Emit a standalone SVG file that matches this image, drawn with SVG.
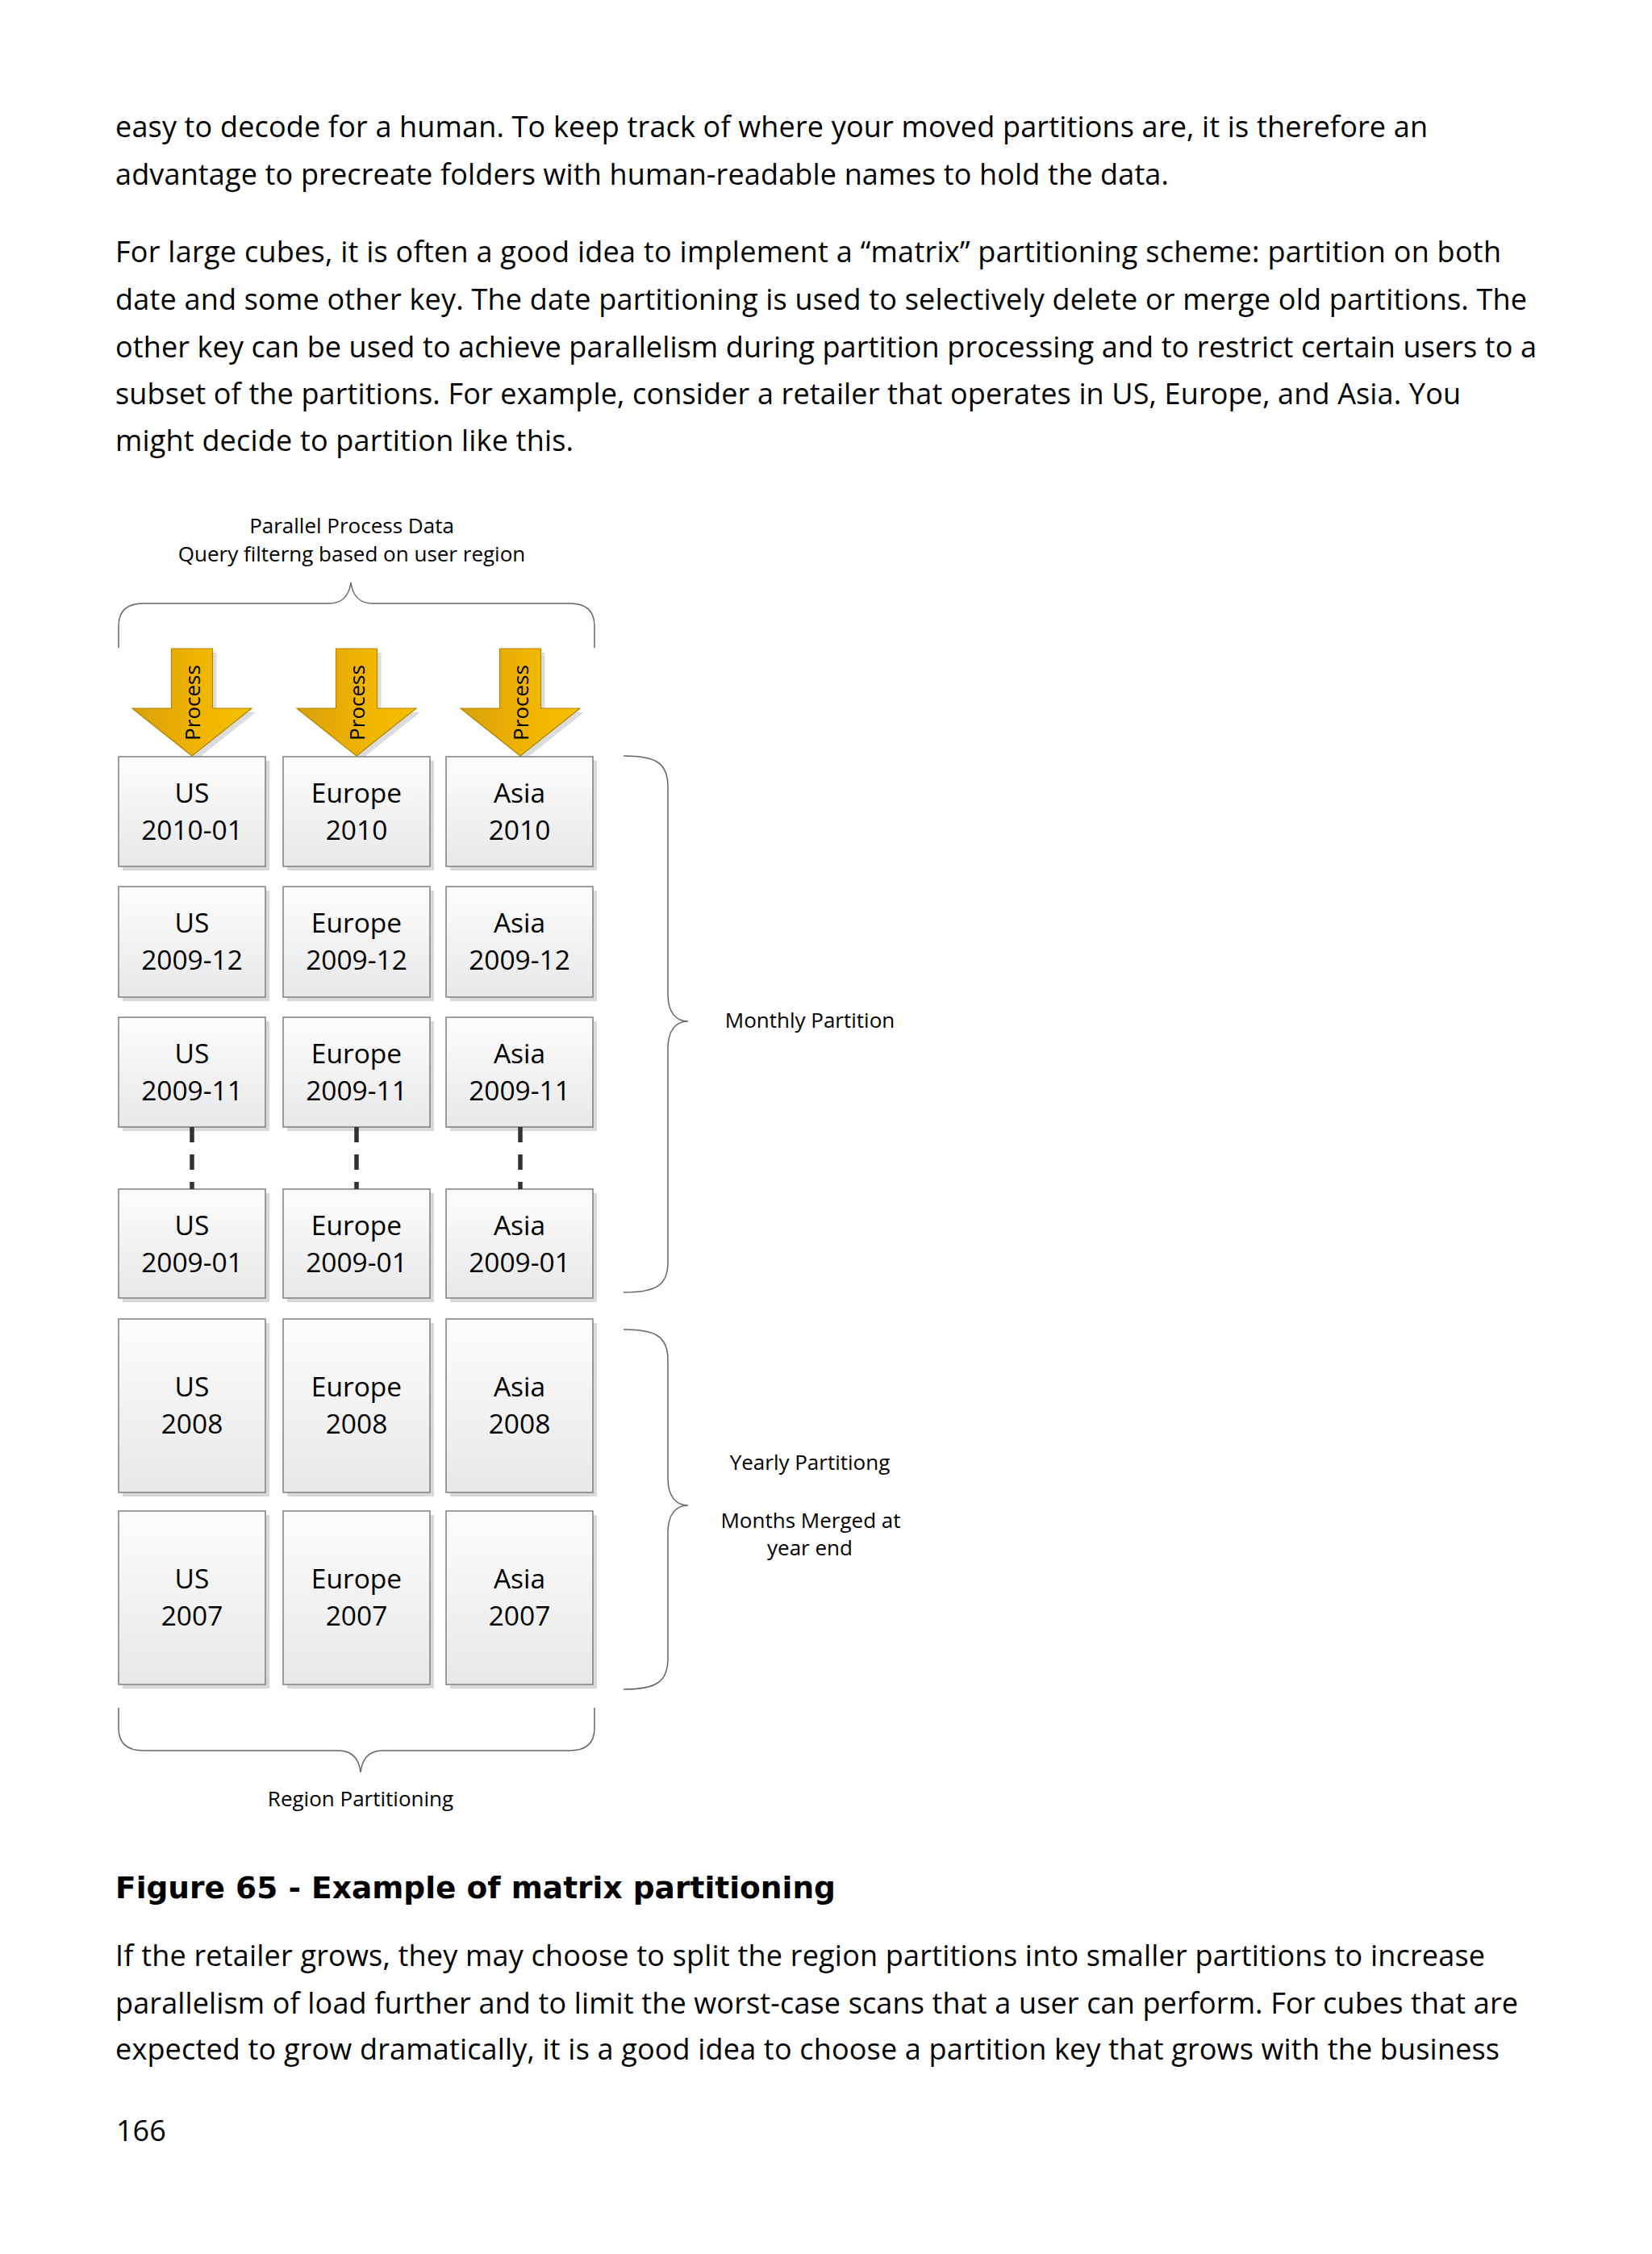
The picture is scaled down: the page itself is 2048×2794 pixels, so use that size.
<svg xmlns="http://www.w3.org/2000/svg" width="2048" height="2794" viewBox="0 0 2048 2794">
<style>
.shadow{fill:#d9d9d9}
.main{fill:url(#boxGrad);stroke:#7f7f7f;stroke-width:1.5}
.bt{font-family:"Open Sans","Liberation Sans",sans-serif;font-size:33.5px;text-anchor:middle;fill:#000}
.lbl{font-family:"Open Sans","Liberation Sans",sans-serif;font-size:26px;text-anchor:middle;fill:#000}
.proc{font-family:"Open Sans","Liberation Sans",sans-serif;font-size:26px;text-anchor:middle;fill:#000}
.body{font-family:"Open Sans","Liberation Sans",sans-serif;font-size:36px;fill:#000}
.cap{font-family:"DejaVu Sans","Liberation Sans",sans-serif;font-weight:bold;font-size:38px;fill:#000}
.brace{fill:none;stroke:#666;stroke-width:1.5}
.dash{fill:none;stroke:#333;stroke-width:5.5;stroke-dasharray:19 15}
.arr{fill:url(#arrowGrad);stroke:#b38600;stroke-width:1.2}
.arrsh{fill:#dcdcdc}
</style>
<defs>
<linearGradient id="boxGrad" x1="0" y1="0" x2="0" y2="1">
<stop offset="0" stop-color="#fdfdfd"/>
<stop offset="1" stop-color="#e8e8ea"/>
</linearGradient>
<linearGradient id="arrowGrad" x1="0" y1="0" x2="1" y2="0">
<stop offset="0" stop-color="#d6a00c"/>
<stop offset="0.55" stop-color="#f0b400"/>
<stop offset="1" stop-color="#f7c000"/>
</linearGradient>
</defs>
<rect x="0" y="0" width="2048" height="2794" fill="#ffffff"/>

<g id="body-text-top">
<text class="body" x="143" y="170" textLength="1627" lengthAdjust="spacing">easy to decode for a human. To keep track of where your moved partitions are, it is therefore an</text>
<text class="body" x="143" y="229" textLength="1306" lengthAdjust="spacing">advantage to precreate folders with human-readable names to hold the data.</text>
<text class="body" x="143" y="325" textLength="1718" lengthAdjust="spacing">For large cubes, it is often a good idea to implement a “matrix” partitioning scheme: partition on both</text>
<text class="body" x="143" y="384" textLength="1750" lengthAdjust="spacing">date and some other key. The date partitioning is used to selectively delete or merge old partitions. The</text>
<text class="body" x="143" y="443" textLength="1762" lengthAdjust="spacing">other key can be used to achieve parallelism during partition processing and to restrict certain users to a</text>
<text class="body" x="143" y="501" textLength="1668" lengthAdjust="spacing">subset of the partitions. For example, consider a retailer that operates in US, Europe, and Asia. You</text>
<text class="body" x="143" y="559" textLength="568" lengthAdjust="spacing">might decide to partition like this.</text>
</g>

<g id="label-top">
<text class="lbl" x="436" y="661">Parallel Process Data</text>
<text class="lbl" x="436" y="696">Query filterng based on user region</text>
</g>
<g id="brace-top">
<path class="brace" d="M147,803 V776 C147,757 157,748 178,748 H408 C424,748 433,738 435,722 C437,738 446,748 462,748 H706 C727,748 737,757 737,776 V803"/>
</g>

<g id="arrow-us">
<polygon class="arrsh" transform="translate(243,809)" points="-25.5,0 25.5,0 25.5,74 74,74 0,133 -74,74 -25.5,74"/>
<polygon class="arr" transform="translate(238,804)" points="-25.5,0 25.5,0 25.5,74 74,74 0,133 -74,74 -25.5,74"/>
<text class="proc" transform="translate(248,871) rotate(-90)" x="0" y="0">Process</text>
</g>
<g id="arrow-europe">
<polygon class="arrsh" transform="translate(447,809)" points="-25.5,0 25.5,0 25.5,74 74,74 0,133 -74,74 -25.5,74"/>
<polygon class="arr" transform="translate(442,804)" points="-25.5,0 25.5,0 25.5,74 74,74 0,133 -74,74 -25.5,74"/>
<text class="proc" transform="translate(452,871) rotate(-90)" x="0" y="0">Process</text>
</g>
<g id="arrow-asia">
<polygon class="arrsh" transform="translate(650,809)" points="-25.5,0 25.5,0 25.5,74 74,74 0,133 -74,74 -25.5,74"/>
<polygon class="arr" transform="translate(645,804)" points="-25.5,0 25.5,0 25.5,74 74,74 0,133 -74,74 -25.5,74"/>
<text class="proc" transform="translate(655,871) rotate(-90)" x="0" y="0">Process</text>
</g>

<g id="us-2010-01"><rect class="shadow" x="152" y="943" width="182" height="136"/><rect class="main" x="147" y="938" width="182" height="136"/><text class="bt" x="238" y="995">US</text><text class="bt" x="238" y="1041">2010-01</text></g>
<g id="europe-2010"><rect class="shadow" x="356" y="943" width="182" height="136"/><rect class="main" x="351" y="938" width="182" height="136"/><text class="bt" x="442" y="995">Europe</text><text class="bt" x="442" y="1041">2010</text></g>
<g id="asia-2010"><rect class="shadow" x="558" y="943" width="182" height="136"/><rect class="main" x="553" y="938" width="182" height="136"/><text class="bt" x="644" y="995">Asia</text><text class="bt" x="644" y="1041">2010</text></g>

<g id="us-2009-12"><rect class="shadow" x="152" y="1104" width="182" height="137"/><rect class="main" x="147" y="1099" width="182" height="137"/><text class="bt" x="238" y="1156">US</text><text class="bt" x="238" y="1202">2009-12</text></g>
<g id="europe-2009-12"><rect class="shadow" x="356" y="1104" width="182" height="137"/><rect class="main" x="351" y="1099" width="182" height="137"/><text class="bt" x="442" y="1156">Europe</text><text class="bt" x="442" y="1202">2009-12</text></g>
<g id="asia-2009-12"><rect class="shadow" x="558" y="1104" width="182" height="137"/><rect class="main" x="553" y="1099" width="182" height="137"/><text class="bt" x="644" y="1156">Asia</text><text class="bt" x="644" y="1202">2009-12</text></g>

<g id="us-2009-11"><rect class="shadow" x="152" y="1266" width="182" height="136"/><rect class="main" x="147" y="1261" width="182" height="136"/><text class="bt" x="238" y="1318">US</text><text class="bt" x="238" y="1364">2009-11</text></g>
<g id="europe-2009-11"><rect class="shadow" x="356" y="1266" width="182" height="136"/><rect class="main" x="351" y="1261" width="182" height="136"/><text class="bt" x="442" y="1318">Europe</text><text class="bt" x="442" y="1364">2009-11</text></g>
<g id="asia-2009-11"><rect class="shadow" x="558" y="1266" width="182" height="136"/><rect class="main" x="553" y="1261" width="182" height="136"/><text class="bt" x="644" y="1318">Asia</text><text class="bt" x="644" y="1364">2009-11</text></g>

<g id="us-2009-01"><rect class="shadow" x="152" y="1479" width="182" height="135"/><rect class="main" x="147" y="1474" width="182" height="135"/><text class="bt" x="238" y="1531">US</text><text class="bt" x="238" y="1577">2009-01</text></g>
<g id="europe-2009-01"><rect class="shadow" x="356" y="1479" width="182" height="135"/><rect class="main" x="351" y="1474" width="182" height="135"/><text class="bt" x="442" y="1531">Europe</text><text class="bt" x="442" y="1577">2009-01</text></g>
<g id="asia-2009-01"><rect class="shadow" x="558" y="1479" width="182" height="135"/><rect class="main" x="553" y="1474" width="182" height="135"/><text class="bt" x="644" y="1531">Asia</text><text class="bt" x="644" y="1577">2009-01</text></g>

<g id="us-2008"><rect class="shadow" x="152" y="1640" width="182" height="215"/><rect class="main" x="147" y="1635" width="182" height="215"/><text class="bt" x="238" y="1731">US</text><text class="bt" x="238" y="1777">2008</text></g>
<g id="europe-2008"><rect class="shadow" x="356" y="1640" width="182" height="215"/><rect class="main" x="351" y="1635" width="182" height="215"/><text class="bt" x="442" y="1731">Europe</text><text class="bt" x="442" y="1777">2008</text></g>
<g id="asia-2008"><rect class="shadow" x="558" y="1640" width="182" height="215"/><rect class="main" x="553" y="1635" width="182" height="215"/><text class="bt" x="644" y="1731">Asia</text><text class="bt" x="644" y="1777">2008</text></g>

<g id="us-2007"><rect class="shadow" x="152" y="1878" width="182" height="215"/><rect class="main" x="147" y="1873" width="182" height="215"/><text class="bt" x="238" y="1969">US</text><text class="bt" x="238" y="2015">2007</text></g>
<g id="europe-2007"><rect class="shadow" x="356" y="1878" width="182" height="215"/><rect class="main" x="351" y="1873" width="182" height="215"/><text class="bt" x="442" y="1969">Europe</text><text class="bt" x="442" y="2015">2007</text></g>
<g id="asia-2007"><rect class="shadow" x="558" y="1878" width="182" height="215"/><rect class="main" x="553" y="1873" width="182" height="215"/><text class="bt" x="644" y="1969">Asia</text><text class="bt" x="644" y="2015">2007</text></g>

<g id="connectors">
<line class="dash" x1="238" y1="1397" x2="238" y2="1474"/>
<line class="dash" x1="442" y1="1397" x2="442" y2="1474"/>
<line class="dash" x1="645" y1="1397" x2="645" y2="1474"/>
</g>

<g id="brace-monthly">
<path class="brace" d="M773,937 C812,937 828,945 828,975 V1232 C828,1255 838,1266 853,1266 C838,1266 828,1277 828,1300 V1565 C828,1594 812,1602 773,1602"/>
<text class="lbl" x="1004" y="1274">Monthly Partition</text>
</g>
<g id="brace-yearly">
<path class="brace" d="M773,1648 C812,1648 828,1656 828,1686 V1832 C828,1855 838,1866 853,1866 C838,1866 828,1877 828,1900 V2056 C828,2086 812,2094 773,2094"/>
<text class="lbl" x="1004" y="1822">Yearly Partitiong</text>
<text class="lbl" x="1005" y="1894">Months Merged at</text>
<text class="lbl" x="1004" y="1928">year end</text>
</g>
<g id="brace-region">
<path class="brace" d="M147,2117 V2142 C147,2161 157,2170 178,2170 H420 C436,2170 445,2180 447,2197 C449,2180 458,2170 474,2170 H706 C727,2170 737,2161 737,2142 V2117"/>
<text class="lbl" x="447" y="2239">Region Partitioning</text>
</g>

<g id="caption-and-body-bottom">
<text class="cap" x="143" y="2353" textLength="893" lengthAdjust="spacingAndGlyphs">Figure 65 - Example of matrix partitioning</text>
<text class="body" x="143" y="2437" textLength="1698" lengthAdjust="spacing">If the retailer grows, they may choose to split the region partitions into smaller partitions to increase</text>
<text class="body" x="143" y="2496" textLength="1739" lengthAdjust="spacing">parallelism of load further and to limit the worst-case scans that a user can perform. For cubes that are</text>
<text class="body" x="143" y="2553" textLength="1716" lengthAdjust="spacing">expected to grow dramatically, it is a good idea to choose a partition key that grows with the business</text>
<text class="body" x="144" y="2654">166</text>
</g>
</svg>
